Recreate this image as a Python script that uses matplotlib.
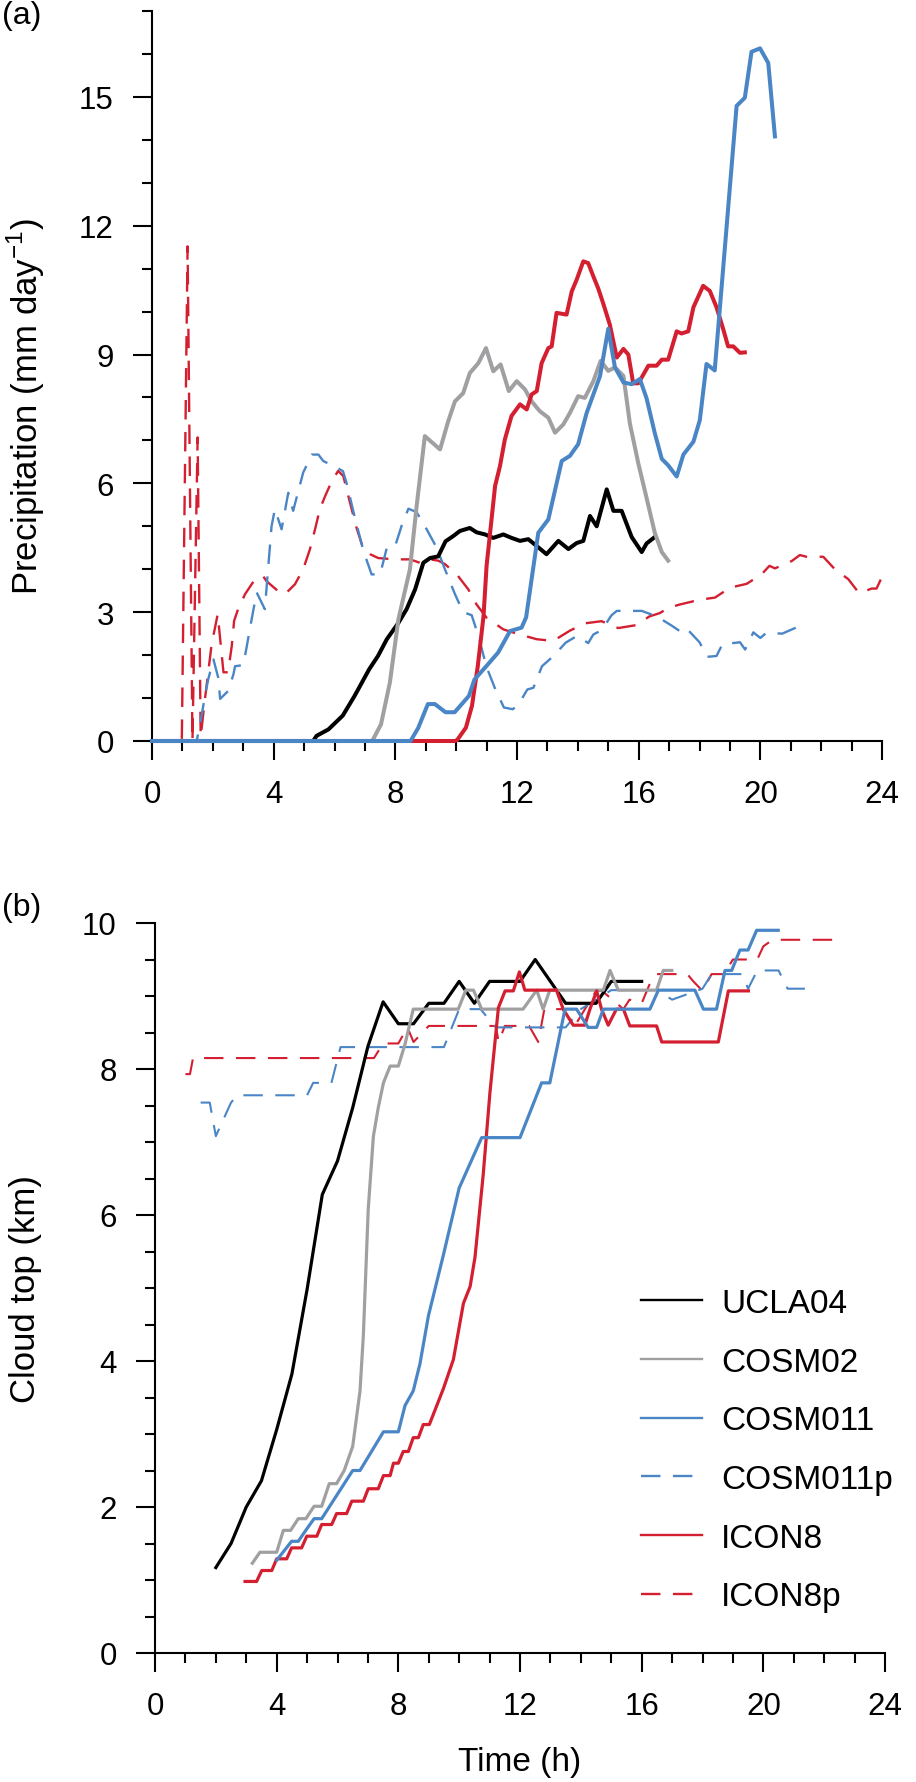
import numpy as np
import matplotlib
matplotlib.use("Agg")
import matplotlib.pyplot as plt
from matplotlib.ticker import MultipleLocator

plt.rcParams.update({"font.family": "Liberation Sans", "mathtext.fontset": "custom",
                     "mathtext.rm": "Liberation Sans", "lines.scale_dashes": False,
                     "axes.spines.top": False, "axes.spines.right": False})

RED, BLUE, GREY = "#d41f31", "#4a86c6", "#a0a0a2"

# ---------- (a) precipitation, mm/day ----------
ucla_t = [0, 5.3, 5.41, 5.8, 6.27, 6.66, 7.14, 7.43, 7.72, 8.1, 8.37, 8.65, 8.92, 9.14, 9.41,
          9.65, 9.9, 10.12, 10.35, 10.45, 10.67, 10.95, 11.22, 11.55, 11.82, 12.1, 12.37, 12.65,
          12.97, 13.36, 13.69, 13.96, 14.18, 14.4, 14.62, 14.95, 15.17, 15.44, 15.77, 16.1,
          16.26, 16.53]
ucla_p = [0, 0, 0.12, 0.27, 0.59, 1.05, 1.67, 1.98, 2.37, 2.75, 3.07, 3.53, 4.15, 4.26, 4.3,
          4.65, 4.77, 4.89, 4.94, 4.96, 4.86, 4.81, 4.73, 4.81, 4.73, 4.66, 4.7, 4.54,
          4.35, 4.66, 4.47, 4.61, 4.66, 5.24, 5.0, 5.86, 5.36, 5.36, 4.75, 4.4,
          4.6, 4.75]

cosm02_t = [0, 7.24, 7.53, 7.82, 8.1, 8.48, 8.7, 8.97, 9.47, 9.74, 9.96, 10.23, 10.45, 10.73,
            10.98, 11.22, 11.46, 11.73, 11.99, 12.26, 12.48, 12.75, 13.03, 13.25, 13.52, 13.74,
            14.01, 14.23, 14.51, 14.75, 15.0, 15.22, 15.5, 15.71, 15.99, 16.26, 16.53, 16.76,
            16.97]
cosm02_p = [0, 0, 0.39, 1.36, 2.83, 4.0, 5.47, 7.1, 6.79, 7.45, 7.91, 8.1, 8.57, 8.8,
            9.15, 8.61, 8.77, 8.15, 8.38, 8.19, 7.91, 7.68, 7.53, 7.18, 7.37, 7.64,
            8.03, 7.99, 8.38, 8.85, 8.62, 8.7, 8.5, 7.4, 6.46, 5.66, 4.85, 4.4,
            4.2]

cosm011_t = [0, 8.5, 8.75, 9.07, 9.3, 9.65, 9.95, 10.42, 10.6, 11.0, 11.38, 11.77, 12.15, 12.3,
             12.7, 13.03, 13.47, 13.74, 14.01, 14.29, 14.73, 15.0, 15.22, 15.5, 15.77, 16.04,
             16.26, 16.53, 16.76, 16.97, 17.25, 17.47, 17.8, 18.01, 18.23, 18.5, 19.22, 19.49,
             19.71, 19.99, 20.26, 20.48]
cosm011_p = [0, 0, 0.3, 0.86, 0.86, 0.67, 0.67, 1.05, 1.43, 1.75, 2.06, 2.56, 2.64, 2.88,
             4.85, 5.16, 6.52, 6.64, 6.91, 7.64, 8.5, 9.6, 8.7, 8.35, 8.31, 8.43,
             7.98, 7.17, 6.57, 6.42, 6.16, 6.67, 6.97, 7.47, 8.78, 8.63, 14.79, 14.98,
             16.05, 16.13, 15.79, 14.08]

cosm011p_t = [0, 1.47, 1.63, 1.74, 1.85, 2.02, 2.18, 2.24, 2.51, 2.68, 2.73, 3.0, 3.11, 3.22,
              3.44, 3.71, 3.93, 4.04, 4.26, 4.48, 4.64, 4.97, 5.25, 5.47, 5.63, 6.12, 6.28,
              6.4, 6.67, 6.95, 7.22, 7.5, 7.72, 7.99, 8.21, 8.43, 8.7, 9.03, 9.36, 9.63, 9.96,
              10.23, 10.51, 10.73, 10.99, 11.29, 11.57, 11.86, 12.06, 12.34, 12.54, 12.82,
              13.2, 13.6, 13.98, 14.34, 14.51, 14.78, 15.11, 15.28, 16.1, 16.6, 17.1, 17.35,
              17.55, 18.0, 18.25, 18.56, 18.75, 19.33, 19.5, 19.77, 20.0, 20.2, 20.72, 21.3]
cosm011p_p = [0, 0, 0.59, 1.05, 1.44, 1.9, 1.47, 0.98, 1.17, 1.56, 1.74, 1.77, 2.18, 2.62,
              3.46, 3.07, 5.0, 5.4, 4.93, 5.78, 5.36, 6.25, 6.67, 6.67, 6.52, 6.35, 6.28,
              6.0, 5.2, 4.43, 3.88, 3.88, 4.5, 4.53, 5.02, 5.41, 5.33, 4.93, 4.5, 4.0, 3.42,
              3.0, 2.93, 2.45, 1.74, 1.2, 0.78, 0.74, 0.86, 1.2, 1.24, 1.74,
              1.98, 2.29, 2.45, 2.28, 2.48, 2.58, 2.93, 3.03, 3.03, 2.9, 2.68, 2.56,
              2.64, 2.3, 1.96, 1.98, 2.25, 2.3, 2.13, 2.53, 2.4, 2.52, 2.5, 2.68]

icon8_t = [0, 9.95, 10.03, 10.32, 10.52, 10.71, 10.9, 11.0, 11.28, 11.44, 11.6, 11.82, 12.1,
           12.32, 12.48, 12.65, 12.81, 13.03, 13.14, 13.3, 13.63, 13.8, 13.96, 14.18, 14.34,
           14.51, 14.67, 14.83, 15.05, 15.28, 15.5, 15.66, 15.82, 15.99, 16.32, 16.59, 16.76,
           16.97, 17.25, 17.41, 17.63, 17.8, 18.12, 18.34, 18.56, 18.78, 18.94, 19.11, 19.33,
           19.49]
icon8_p = [0, 0, 0.02, 0.31, 0.82, 1.74, 2.91, 4.08, 5.94, 6.4, 7.02, 7.57, 7.84,
           7.72, 8.07, 8.15, 8.8, 9.15, 9.19, 9.97, 9.93, 10.47, 10.74, 11.17, 11.13,
           10.82, 10.54, 10.2, 9.7, 8.93, 9.13, 9.0, 8.33, 8.33, 8.74, 8.74, 8.88,
           8.88, 9.54, 9.49, 9.54, 10.1, 10.6, 10.48, 10.1, 9.59, 9.19, 9.19, 9.04,
           9.05]

icon8p_t = [0, 0.98, 1.17, 1.33, 1.5, 1.6, 1.74, 1.96, 2.16, 2.35, 2.5, 2.62, 2.7, 2.83, 3.06,
            3.39, 3.65, 3.77, 4.26, 4.43, 4.7, 4.97, 5.19, 5.36, 5.52, 5.69, 5.91, 6.12, 6.29,
            6.51, 6.73, 6.95, 7.17, 7.44, 7.99, 8.48, 8.81, 9.14, 9.41, 9.63, 10.02, 10.4,
            10.67, 11.0, 11.55, 11.99, 12.65, 13.19, 13.74, 14.23, 14.78, 15.33, 15.93, 16.35,
            16.7, 16.97, 17.36, 18.01, 18.51, 19.0, 19.55, 20.04, 20.3, 20.48, 21.03, 21.3,
            21.52, 22.07, 22.45, 22.89, 23.25, 23.66, 23.82, 23.98]
icon8p_p = [0, 0, 11.52, 0, 7.07, 0.1, 0.97, 2.25, 2.95, 1.6, 1.6, 2.2, 2.8, 3.07, 3.42,
            3.77, 3.84, 3.72, 3.42, 3.46, 3.65, 4.0, 4.46, 4.93, 5.4, 5.7, 6.05, 6.29, 6.17,
            5.55, 4.95, 4.47, 4.35, 4.26, 4.23, 4.23, 4.15, 4.23, 4.2, 4.12, 3.88, 3.53,
            3.18, 2.87, 2.6, 2.5, 2.37, 2.33, 2.57, 2.74, 2.79, 2.63, 2.7, 2.9,
            2.98, 3.1, 3.18, 3.29, 3.34, 3.57, 3.66, 3.88, 4.08, 4.02, 4.19, 4.33,
            4.29, 4.29, 4.0, 3.77, 3.44, 3.55, 3.55, 3.79]

# ---------- (b) cloud top, km ----------
ucla_bt = [2.0, 2.5, 3.0, 3.5, 4.0, 4.5, 5.0, 5.5, 6.0, 6.5, 7.0, 7.5, 8.0, 8.5, 9.0, 9.5, 10.0,
           10.5, 11.0, 12.0, 12.5, 13.0, 13.5, 14.5, 15.0, 16.0]
ucla_bh = [1.17, 1.5, 2.0, 2.36, 3.06, 3.82, 4.98, 6.28, 6.74, 7.47, 8.31, 8.92, 8.62, 8.62, 8.9,
           8.9, 9.2, 8.9, 9.2, 9.2, 9.5, 9.2, 8.9, 8.9, 9.2, 9.2]

cosm02_bt = [3.2, 3.45, 4.0, 4.22, 4.46, 4.71, 4.96, 5.23, 5.48, 5.73, 5.97, 6.22, 6.5, 6.74,
             6.85, 7.01, 7.18, 7.34, 7.51, 7.73, 8.0, 8.22, 8.49, 9.97, 10.22, 10.47, 10.74,
             12.1, 12.55, 12.76, 12.98, 14.74, 14.96, 15.23, 16.49, 16.71, 16.99]
cosm02_bh = [1.23, 1.38, 1.38, 1.68, 1.68, 1.84, 1.84, 2.01, 2.01, 2.32, 2.32, 2.5, 2.83, 3.59,
             4.35, 6.08, 7.08, 7.47, 7.81, 8.04, 8.04, 8.34, 8.82, 8.82, 9.08, 9.08, 8.82,
             8.82, 9.08, 8.82, 9.08, 9.08, 9.35, 9.08, 9.08, 9.35, 9.35]

cosm011_bt = [4.0, 4.49, 4.71, 4.99, 5.23, 5.48, 6.5, 6.74, 7.51, 8.0, 8.22, 8.49, 8.71, 8.99,
              9.48, 10.0, 10.74, 12.0, 12.71, 12.98, 13.48, 13.86, 14.24, 14.52, 14.74, 16.27,
              16.55, 17.75, 18.03, 18.46, 18.74, 18.96, 19.23, 19.5, 19.78, 20.49]
cosm011_bh = [1.27, 1.53, 1.53, 1.7, 1.84, 1.84, 2.5, 2.5, 3.03, 3.03, 3.39, 3.59, 3.96, 4.62,
              5.45, 6.37, 7.06, 7.06, 7.81, 7.81, 8.82, 8.82, 8.57, 8.57, 8.82, 8.82,
              9.08, 9.08, 8.82, 8.82, 9.35, 9.35, 9.63, 9.63, 9.9, 9.9]

cosm011p_bt = [1.5, 1.8, 2.0, 2.5, 2.7, 5.0, 5.2, 5.8, 6.1, 9.5, 10.0, 10.7, 11.2, 13.5, 14.0,
               15.0, 16.5, 17.0, 18.0, 18.3, 19.3, 19.5, 19.8, 20.5, 20.8, 21.5]
cosm011p_bh = [7.54, 7.54, 7.08, 7.54, 7.64, 7.64, 7.81, 7.81, 8.3, 8.3, 8.82, 8.82, 8.57, 8.57,
               8.82, 9.08, 9.08, 8.95, 9.1, 9.3, 9.3, 9.1, 9.35, 9.35, 9.1, 9.1]

icon8_bt = [2.96, 3.34, 3.51, 3.84, 4.0, 4.33, 4.49, 4.82, 4.99, 5.32, 5.48, 5.81, 5.97, 6.3,
            6.47, 6.85, 7.01, 7.34, 7.51, 7.73, 7.84, 8.0, 8.16, 8.33, 8.49, 8.66, 8.82, 9.02,
            9.48, 9.81, 10.14, 10.36, 10.52, 10.79, 11.01, 11.29, 11.51, 11.78, 11.98, 12.16,
            13.2, 13.42, 13.75, 14.13, 14.3, 14.52, 14.68, 14.9, 15.17, 15.4, 15.61, 16.49,
            16.66, 18.52, 18.85, 19.51]
icon8_bh = [0.98, 0.98, 1.13, 1.13, 1.29, 1.29, 1.44, 1.44, 1.6, 1.6, 1.76, 1.76, 1.91, 1.91,
            2.08, 2.08, 2.25, 2.25, 2.43, 2.43, 2.6, 2.6, 2.76, 2.76, 2.95, 2.95, 3.13, 3.13,
            3.62, 4.02, 4.79, 5.02, 5.42, 6.55, 7.67, 8.84, 9.07, 9.07, 9.33, 9.08,
            9.08, 8.82, 8.6, 8.6, 8.82, 9.07, 8.82, 8.6, 8.82, 8.82, 8.59, 8.59,
            8.37, 8.37, 9.07, 9.07]

icon8p_bt = [1.0, 1.15, 1.25, 7.2, 7.5, 8.0, 8.3, 8.5, 9.0, 11.2, 11.3, 11.5, 12.3, 12.6, 12.8,
             13.4, 13.8, 14.5, 14.7, 15.4, 15.6, 16.0, 16.3, 16.5, 17.5, 17.7, 18.0, 18.3,
             18.7, 19.0, 19.8, 20.0, 20.3, 22.3]
icon8p_bh = [7.93, 7.93, 8.15, 8.15, 8.35, 8.35, 8.57, 8.37, 8.59, 8.59, 8.37, 8.59, 8.59, 8.37,
             8.82, 8.82, 8.59, 9.07, 9.07, 8.82, 8.95, 8.9, 9.2, 9.3, 9.3, 9.2, 9.07, 9.3,
             9.3, 9.5, 9.5, 9.68, 9.77, 9.77]

names = ["UCLA04", "COSM02", "COSM011", "COSM011p", "ICON8", "ICON8p"]

W, H = 916, 1783
fig = plt.figure(figsize=(W / 100, H / 100), dpi=100)
axa = fig.add_axes([152 / W, 1 - 742 / H, 730 / W, 730 / H])
axb = fig.add_axes([155 / W, 1 - 1654 / H, 730 / W, 730 / H])

DASH = (0, (14, 9))


def draw(ax, data, lw_solid, lw_dash):
    style = {"UCLA04": ("k", "-"), "COSM02": (GREY, "-"), "COSM011": (BLUE, "-"),
             "COSM011p": (BLUE, DASH), "ICON8": (RED, "-"), "ICON8p": (RED, DASH)}
    handles = {}
    for nm in ["ICON8p", "COSM011p", "UCLA04", "COSM02", "ICON8", "COSM011"]:
        t, v = data[nm]
        col, ls = style[nm]
        lw = lw_dash if ls is DASH else lw_solid
        ln, = ax.plot(t, v, color=col, ls=ls, lw=lw, label=nm, clip_on=False, zorder=3)
        handles[nm] = ln
    return handles


draw(axa, {"UCLA04": (ucla_t, ucla_p), "COSM02": (cosm02_t, cosm02_p),
           "COSM011": (cosm011_t, cosm011_p), "COSM011p": (cosm011p_t, cosm011p_p),
           "ICON8": (icon8_t, icon8_p), "ICON8p": (icon8p_t, icon8p_p)}, 2.9, 1.7)
hb = draw(axb, {"UCLA04": (ucla_bt, ucla_bh), "COSM02": (cosm02_bt, cosm02_bh),
                "COSM011": (cosm011_bt, cosm011_bh), "COSM011p": (cosm011p_bt, cosm011p_bh),
                "ICON8": (icon8_bt, icon8_bh), "ICON8p": (icon8p_bt, icon8p_bh)}, 2.3, 1.5)

for ax, ytop, ymaj, ymin in [(axa, 17, 3, 1), (axb, 10, 2, 0.5)]:
    ax.set_xlim(0, 24); ax.set_ylim(0, ytop)
    ax.xaxis.set_major_locator(MultipleLocator(4)); ax.xaxis.set_minor_locator(MultipleLocator(1))
    ax.yaxis.set_major_locator(MultipleLocator(ymaj)); ax.yaxis.set_minor_locator(MultipleLocator(ymin))
    ax.tick_params(which="major", length=13.5, width=1.5, pad=14, labelsize=22.5)
    ax.tick_params(which="minor", length=7, width=1.5)
    for s in ["left", "bottom"]:
        ax.spines[s].set_linewidth(1.5)
axa.set_yticks([0, 3, 6, 9, 12, 15])

leg = axb.legend([hb[n] for n in names], names, loc="upper left",
                 bbox_to_anchor=(641 / W, 1 - 1289 / H), bbox_transform=fig.transFigure,
                 frameon=False, fontsize=24, handlelength=1.83, handletextpad=0.57,
                 labelspacing=0.83, borderpad=0, borderaxespad=0)
for ln in leg.get_lines():
    ln.set_linewidth(1.7)

fig.text(26 / W, 1 - 407 / H, "Precipitation (mm day$^{-1}$)", rotation=90,
         ha="center", va="center", fontsize=25)
fig.text(26 / W, 1 - 1289 / H, "Cloud top (km)", rotation=90, ha="center", va="center",
         fontsize=25)
fig.text(520 / W, 1 - 1763 / H, "Time (h)", ha="center", va="center", fontsize=24)
fig.text(2 / W, 1 - 16 / H, "(a)", ha="left", va="center", fontsize=23)
fig.text(2 / W, 1 - 908 / H, "(b)", ha="left", va="center", fontsize=23)

fig.savefig("out.png", dpi=100)
